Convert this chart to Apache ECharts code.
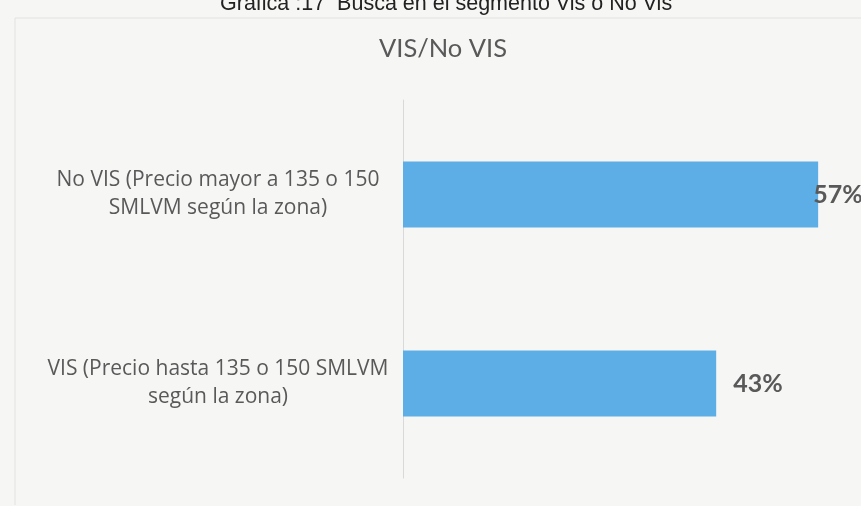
<!DOCTYPE html>
<html>
<head>
<meta charset="utf-8">
<script src="https://cdn.jsdelivr.net/npm/echarts@6/dist/echarts.min.js"></script>
<style>
  html, body { margin: 0; padding: 0; background: #f6f6f5; }
  #chart { width: 861px; height: 506px; }
</style>
</head>
<body>
<div id="chart"></div>
<script>
const categories = [
  'VIS (Precio hasta 135 o 150 SMLVM\nsegún la zona)',
  'No VIS (Precio mayor a 135 o 150\nSMLVM según la zona)',
]
const shares = [43, 57]
const headerText = 'Gráfica :17  Busca en el segmento Vis o No Vis'
const titleText = 'VIS/No VIS'

const chart = echarts.init(document.getElementById('chart'))

// the label of the longest bar is pulled back over the bar end, as in the source
const barData = shares.map((v) => ({
  value: v,
  label: v === Math.max(...shares) ? { distance: -5 } : {},
}))

chart.setOption({
  backgroundColor: '#f6f6f5',
  animation: false,
  title: [
    {
      text: headerText,
      left: 215,
      top: -12,
      textStyle: { fontFamily: 'Liberation Sans', fontSize: 21.5, fontWeight: 'normal', color: '#222' },
    },
    {
      text: titleText,
      left: 374,
      top: 31,
      textStyle: { fontFamily: 'Lato', fontSize: 25.5, fontWeight: 'normal', color: '#595959' },
    },
  ],
  graphic: [
    {
      type: 'polyline',
      shape: { points: [[15, 505], [15, 18], [861, 18]] },
      style: { stroke: '#e2e2e0', lineWidth: 1, fill: null },
    },
  ],
  grid: { left: 403, right: 21, top: 100, bottom: 28 },
  xAxis: {
    type: 'value',
    min: 0,
    max: 60,
    show: false,
  },
  yAxis: {
    type: 'category',
    data: categories,
    axisLine: { show: true, lineStyle: { color: '#d9d9d9' } },
    axisTick: { show: false },
    axisLabel: {
      align: 'center',
      margin: 185,
      padding: [8, 0, 0, 0],
      backgroundColor: 'rgba(0,0,0,0)',
      fontFamily: 'Open Sans',
      fontSize: 21,
      lineHeight: 28,
      color: '#595959',
    },
  },
  series: [
    {
      type: 'bar',
      data: barData,
      barWidth: '35%',
      itemStyle: { color: '#5dade6' },
      label: {
        show: true,
        position: 'right',
        distance: 17,
        formatter: '{c}%',
        fontFamily: 'Lato',
        fontSize: 25,
        fontWeight: 'bold',
        color: '#595959',
      },
    },
  ],
})
</script>
</body>
</html>
